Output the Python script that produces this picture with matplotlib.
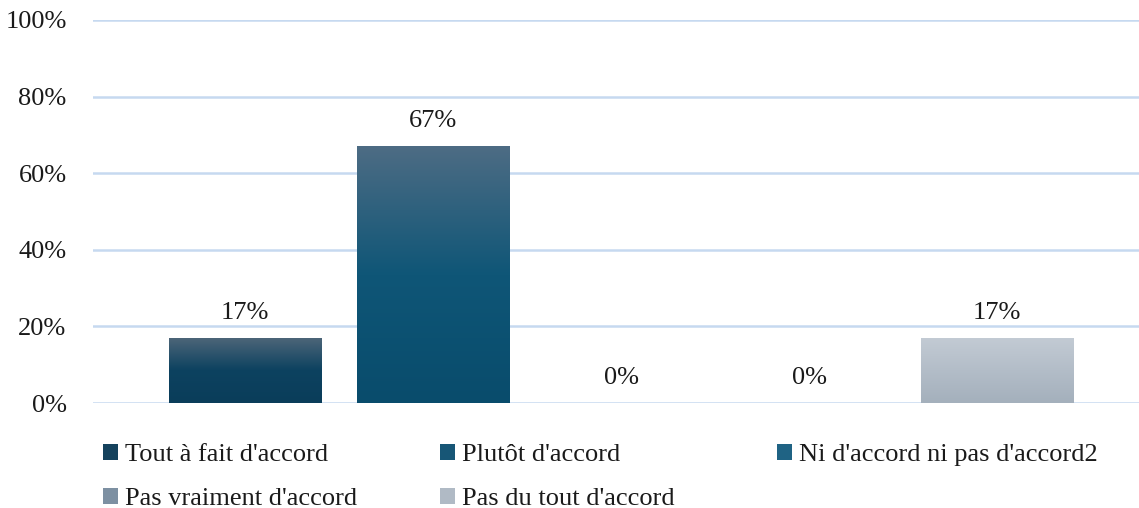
import numpy as np
import matplotlib
matplotlib.use("Agg")
import matplotlib.pyplot as plt
from matplotlib.colors import to_rgb
from matplotlib.patches import Patch

plt.rcParams['font.family'] = ['Liberation Serif', 'DejaVu Serif']

categories = ["Tout à fait d'accord", "Plutôt d'accord", "Ni d'accord ni pas d'accord2",
              "Pas vraiment d'accord", "Pas du tout d'accord"]
values = [17, 67, 0, 0, 17]
value_labels = ["17%", "67%", "0%", "0%", "17%"]
yticks = [0, 20, 40, 60, 80, 100]
ytick_labels = ["0%", "20%", "40%", "60%", "80%", "100%"]

# gradient stops (top, middle, bottom) per series
grad_colors = [
    ("#4e6679", "#0d4260", "#0a3d5a"),
    ("#4d6c84", "#0f5677", "#094c6c"),
    ("#4f7c96", "#1f6384", "#175a7a"),
    ("#a0b0c0", "#7d90a2", "#6c8094"),
    ("#c3cbd4", "#b3bdc8", "#a4b0bc"),
]
legend_colors = ["#15425d", "#175676", "#1f6384", "#7d90a2", "#b0bac5"]

FS = 19
W, H = 1139, 508
fig = plt.figure(figsize=(W / 100, H / 100), dpi=100)
ax = fig.add_axes([93 / W, 1 - 403 / H, (1139 - 93) / W, (403 - 20) / H])

x = np.arange(len(values))
bw = 0.81
bars = ax.bar(x, values, width=bw, color='none', edgecolor='none', zorder=3)


def gradient(top, mid, bot, n=256):
    t = np.linspace(0, 1, n)[:, None]
    c0, c1, c2 = (np.array(to_rgb(c)) for c in (top, mid, bot))
    out = np.where(t < 0.5, c0 + (c1 - c0) * (t / 0.5), c1 + (c2 - c1) * ((t - 0.5) / 0.5))
    return out[:, None, :]


for i, (b, v) in enumerate(zip(bars, values)):
    if v > 0:
        g = gradient(*grad_colors[i])
        im = ax.imshow(g, extent=[b.get_x(), b.get_x() + b.get_width(), 0, v],
                       aspect='auto', origin='upper', zorder=3, interpolation='bilinear')
        im.set_clip_path(b)
    ax.annotate(value_labels[i], (b.get_x() + b.get_width() / 2, v), xytext=(0, 18),
                textcoords='offset points', ha='center', va='center', fontsize=FS, color='#1a1a1a')

ax.set_xlim(-0.8085, 4.755)
ax.set_ylim(0, 100)
ax.set_yticks(yticks)
ax.set_yticklabels(ytick_labels, fontsize=FS, color='#1a1a1a')
ax.set_xticks([])
ax.tick_params(axis='y', length=0, pad=19)
for s in ax.spines.values():
    s.set_visible(False)
ax.yaxis.grid(True, color='#c6d9f0', linewidth=1.8, zorder=0)
ax.set_axisbelow(True)

# legend: three columns, row-wise order
cols = [[0, 3], [1, 4], [2]]
col_x = [103, 440, 777]
for cx, idx in zip(col_x, cols):
    handles = [Patch(facecolor=legend_colors[i], edgecolor='none') for i in idx]
    labels = [categories[i] for i in idx]
    leg = fig.legend(handles, labels, loc='upper left',
                     bbox_to_anchor=(cx / W, 1 - 444 / H), frameon=False,
                     fontsize=FS, handlelength=0.55, handleheight=0.55,
                     handletextpad=0.3, labelspacing=0.81, borderaxespad=0,
                     borderpad=0)
    for t in leg.get_texts():
        t.set_color('#1a1a1a')

fig.savefig("out.png", dpi=100)
